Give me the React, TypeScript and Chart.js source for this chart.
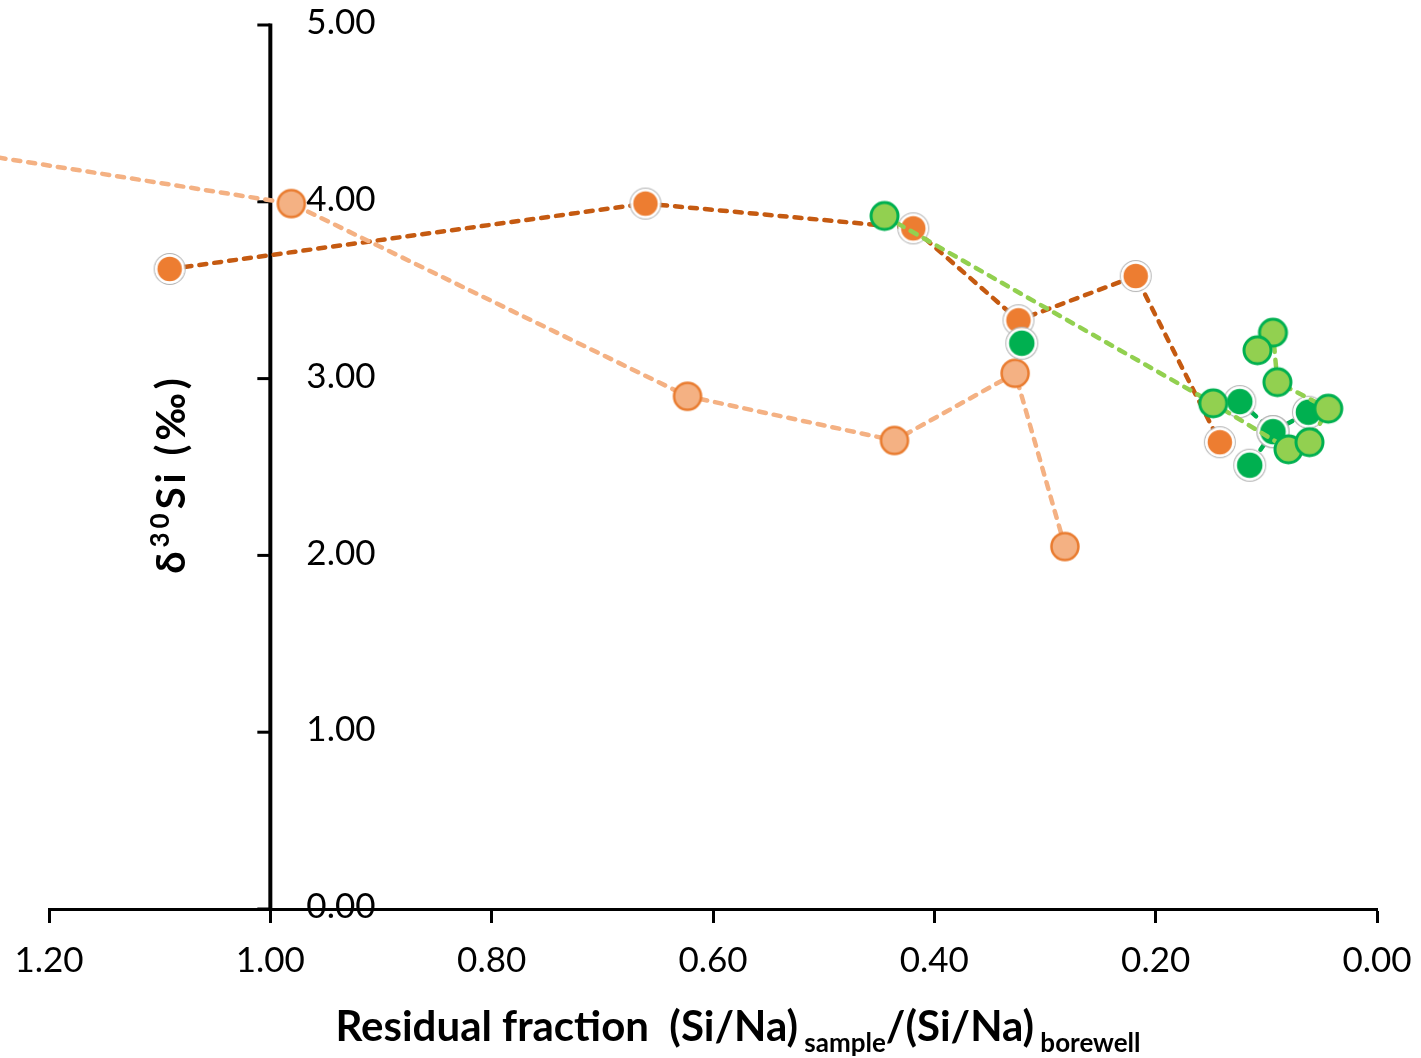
import React, { useEffect, useRef } from 'react';
import { Chart, registerables } from 'chart.js';

Chart.register(...registerables);

// ---- data ----
const xTickValues = [1.2, 1.0, 0.8, 0.6, 0.4, 0.2, 0.0];
const yTickValues = [0, 1, 2, 3, 4, 5];
const yAxisCrossesAt = 1.0;

const darkOrangeX = [1.091, 0.661, 0.419, 0.324, 0.218, 0.142];
const darkOrangeY = [3.62, 3.99, 3.85, 3.33, 3.58, 2.64];

const lightOrangeX = [1.5, 0.981, 0.623, 0.436, 0.327, 0.282];
const lightOrangeY = [4.5, 3.99, 2.9, 2.65, 3.03, 2.05];

const darkGreenX = [0.321, null, 0.124, 0.094, 0.062, null, 0.094, 0.115];
const darkGreenY = [3.2, null, 2.87, 2.7, 2.81, null, 2.7, 2.51];

const lightGreenX = [0.445, 0.148, 0.08, 0.061, 0.044, 0.09, 0.094, 0.108];
const lightGreenY = [3.92, 2.86, 2.6, 2.64, 2.83, 2.98, 3.26, 3.16];

const FONT = 'Lato, "Noto Sans", "DejaVu Sans", sans-serif';

function pts(xs: (number | null)[], ys: (number | null)[]) {
  return xs.map((x, i) => ({ x: x as any, y: ys[i] as any }));
}

// marker image: filled disc, border ring, optional thin grey outer ring
function marker(r: number, fill: string, border: string, bw: number, grey: boolean) {
  const size = Math.ceil(2 * (r + bw + 3));
  const c = document.createElement('canvas');
  c.width = size;
  c.height = size;
  const g = c.getContext('2d')!;
  const m = size / 2;
  if (grey) {
    g.beginPath();
    g.arc(m, m, r + bw / 2 + 0.6, 0, Math.PI * 2);
    g.strokeStyle = '#B4B4B4';
    g.lineWidth = 1.2;
    g.stroke();
  }
  g.beginPath();
  g.arc(m, m, r, 0, Math.PI * 2);
  g.fillStyle = fill;
  g.fill();
  g.strokeStyle = border;
  g.lineWidth = bw;
  g.stroke();
  return c;
}

const customAxes = {
  id: 'customAxes',
  beforeDatasetsDraw(chart: any) {
    const { ctx, scales } = chart;
    const xs = scales.x;
    const ys = scales.y;
    const ax = xs.getPixelForValue(yAxisCrossesAt);
    const top = ys.getPixelForValue(yTickValues[yTickValues.length - 1]);
    const bottom = ys.getPixelForValue(yTickValues[0]);
    ctx.save();
    ctx.strokeStyle = '#000';
    ctx.lineWidth = 4;
    ctx.beginPath();
    ctx.moveTo(ax, top - 1.5);
    ctx.lineTo(ax, bottom);
    ctx.stroke();
    ctx.lineWidth = 3;
    for (const v of yTickValues) {
      const py = ys.getPixelForValue(v);
      ctx.beginPath();
      ctx.moveTo(ax - 13, py);
      ctx.lineTo(ax, py);
      ctx.stroke();
    }
    ctx.restore();
  },
  afterDraw(chart: any) {
    const { ctx, scales } = chart;
    const xs = scales.x;
    const ys = scales.y;
    const ax = xs.getPixelForValue(yAxisCrossesAt);
    ctx.save();
    // y tick labels (right of axis)
    ctx.fillStyle = '#000';
    ctx.font = `35px ${FONT}`;
    ctx.textAlign = 'left';
    ctx.textBaseline = 'middle';
    for (const v of yTickValues) {
      const py = ys.getPixelForValue(v);
      ctx.fillText(v.toFixed(2), ax + 36, py - 2);
    }

    // x axis title with subscripts
    const segs = [
      { t: 'Residual fraction  (Si/Na)', s: 42, dy: 0 },
      { t: ' sample', s: 26, dy: 11 },
      { t: '/(Si/Na)', s: 42, dy: 0 },
      { t: ' borewell', s: 26, dy: 11 },
    ];
    let total = 0;
    for (const sg of segs) {
      ctx.font = `bold ${sg.s}px ${FONT}`;
      total += ctx.measureText(sg.t).width;
    }
    let x = 738 - total / 2;
    ctx.textAlign = 'left';
    ctx.textBaseline = 'alphabetic';
    for (const sg of segs) {
      ctx.font = `bold ${sg.s}px ${FONT}`;
      ctx.fillText(sg.t, x, 1041 + sg.dy);
      x += ctx.measureText(sg.t).width;
    }

    // y axis title, rotated, with superscript
    const ysegs = [
      { t: 'δ', s: 40, dy: 0 },
      { t: '30', s: 26, dy: -16 },
      { t: 'Si (‰)', s: 40, dy: 0 },
    ];
    (ctx as any).letterSpacing = '4px';
    let ytot = 0;
    for (const sg of ysegs) {
      ctx.font = `bold ${sg.s}px ${FONT}`;
      ytot += ctx.measureText(sg.t).width;
    }
    ctx.translate(185, 474);
    ctx.rotate(-Math.PI / 2);
    let yx = -ytot / 2;
    for (const sg of ysegs) {
      ctx.font = `bold ${sg.s}px ${FONT}`;
      ctx.fillText(sg.t, yx, sg.dy);
      yx += ctx.measureText(sg.t).width;
    }
    ctx.restore();
  },
};

export default function App() {
  const ref = useRef<HTMLCanvasElement>(null);

  useEffect(() => {
    const canvas = ref.current;
    if (!canvas) return;
    const common = {
      showLine: true,
      borderWidth: 4.5,
      borderDash: [7, 8],
      borderCapStyle: 'round' as const,
      tension: 0,
      clip: false as const,
      spanGaps: false,
    };
    const chart = new Chart(canvas, {
      type: 'scatter',
      data: {
        datasets: [
          {
            ...common,
            label: 'dark orange',
            data: pts(darkOrangeX, darkOrangeY),
            borderColor: '#C55A11',
            backgroundColor: '#ED7D31',
            pointStyle: marker(13.5, '#ED7D31', '#FFFFFF', 2.5, true) as any,
            pointRadius: 15,
            order: 4,
          },
          {
            ...common,
            label: 'light orange',
            data: pts(lightOrangeX, lightOrangeY),
            borderColor: '#F4B183',
            backgroundColor: '#F4B183',
            pointStyle: marker(13.5, '#F4B183', '#E97C30', 2.5, false) as any,
            pointRadius: 15,
            order: 3,
          },
          {
            ...common,
            label: 'dark green',
            data: pts(darkGreenX, darkGreenY),
            borderColor: '#00B050',
            backgroundColor: '#00B050',
            pointStyle: marker(14, '#00B050', '#FFFFFF', 2.5, true) as any,
            pointRadius: 15,
            order: 2,
          },
          {
            ...common,
            label: 'light green',
            data: pts(lightGreenX, lightGreenY),
            borderColor: '#92D050',
            backgroundColor: '#92D050',
            pointStyle: marker(13.5, '#92D050', '#00B050', 3, false) as any,
            pointRadius: 15,
            order: 1,
          },
        ],
      },
      options: {
        responsive: false,
        animation: false,
        events: [],
        layout: { padding: { left: 49, right: 44, top: 25, bottom: 59 } },
        plugins: {
          legend: { display: false },
          tooltip: { enabled: false },
          title: { display: false },
        },
        scales: {
          x: {
            type: 'linear',
            reverse: true,
            min: 0,
            max: 1.2,
            afterBuildTicks: (scale: any) => {
              scale.ticks = xTickValues.map((v) => ({ value: v }));
            },
            afterFit: (scale: any) => {
              scale.paddingLeft = 0;
              scale.paddingRight = 0;
            },
            border: { display: true, color: '#000', width: 3 },
            grid: {
              display: true,
              drawOnChartArea: false,
              drawTicks: true,
              tickLength: 14,
              tickWidth: 3,
              tickColor: '#000',
            },
            ticks: {
              autoSkip: false,
              maxRotation: 0,
              padding: 17,
              color: '#000',
              font: { family: FONT, size: 35 },
              callback: (v: any) => Number(v).toFixed(2),
            },
          },
          y: {
            type: 'linear',
            display: false,
            min: 0,
            max: 5,
          },
        },
      },
      plugins: [customAxes],
    });
    return () => chart.destroy();
  }, []);

  return (
    <div style={{ position: 'absolute', left: 0, top: 0, width: 1421, height: 1058, background: '#fff' }}>
      <canvas ref={ref} width={1421} height={1058} style={{ display: 'block' }} />
    </div>
  );
}
